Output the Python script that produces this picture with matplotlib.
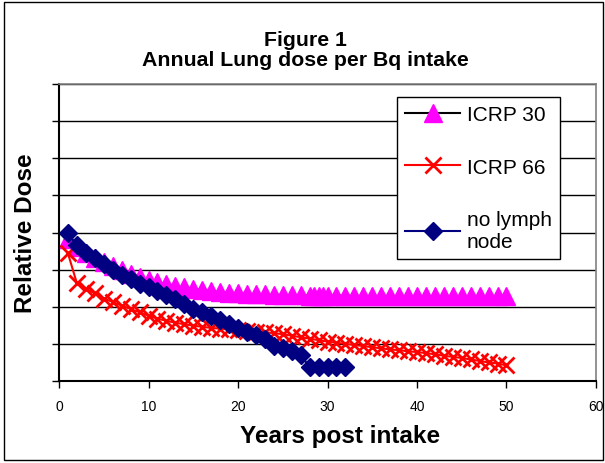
import matplotlib
matplotlib.use("Agg")
import matplotlib.pyplot as plt
from matplotlib.patches import Rectangle

plt.rcParams['font.family'] = ['Liberation Sans', 'DejaVu Sans']

# ICRP 30 (magenta triangles) - a few extra half-year points around year 29
years_30 = list(range(1, 29)) + [28.5, 29, 29.5] + list(range(30, 51))
years_30 = sorted(set(years_30))
dose_30 = [3.83, 3.62, 3.45, 3.32, 3.20, 3.10, 2.99, 2.89, 2.80, 2.72,
           2.66, 2.61, 2.56, 2.52, 2.48, 2.45, 2.42, 2.40, 2.38, 2.36,
           2.35, 2.34, 2.33, 2.32, 2.32, 2.31, 2.31, 2.30, 2.30, 2.30,
           2.30, 2.30, 2.30, 2.30, 2.29, 2.29, 2.29, 2.29, 2.29,
           2.29, 2.29, 2.29, 2.28, 2.28, 2.28, 2.28, 2.28, 2.28, 2.28,
           2.28, 2.28, 2.28]

# ICRP 66 (red crosses)
years_66 = list(range(1, 51))
dose_66 = [3.44, 2.63, 2.49, 2.36, 2.22, 2.13, 2.03, 1.94, 1.85, 1.76,
           1.68, 1.62, 1.57, 1.53, 1.49, 1.46, 1.43, 1.41, 1.39, 1.37,
           1.35, 1.33, 1.31, 1.29, 1.26, 1.22, 1.18, 1.14, 1.10, 1.06,
           1.03, 1.00, 0.97, 0.94, 0.91, 0.88, 0.85, 0.83, 0.80, 0.78,
           0.75, 0.72, 0.68, 0.65, 0.62, 0.58, 0.54, 0.50, 0.47, 0.42]

# no lymph node (navy diamonds)
years_nl = list(range(1, 33))
dose_nl = [3.98, 3.65, 3.45, 3.30, 3.15, 3.00, 2.86, 2.74, 2.62, 2.52,
           2.42, 2.31, 2.20, 2.08, 1.95, 1.85, 1.74, 1.63, 1.53, 1.43,
           1.33, 1.23, 1.12, 0.95, 0.88, 0.80, 0.70, 0.38, 0.38, 0.38,
           0.38, 0.38]

fig = plt.figure(figsize=(6.05, 4.64), dpi=100)
ax = fig.add_axes([59 / 605, 1 - 382 / 464, 537 / 605, 297 / 464])

ax.plot(years_30, dose_30, color='black', lw=1.5, marker='^', ms=12.5,
        mfc='#FF00FF', mec='#FF00FF', label='ICRP 30')
ax.plot(years_66, dose_66, color='#FF0000', lw=1.5, marker='x', ms=12,
        mew=2, label='ICRP 66')
ax.plot(years_nl, dose_nl, color='#000080', lw=1.5, marker='D', ms=9.5,
        mfc='#000080', mec='#000080', label='no lymph\nnode')

ax.set_xlim(0, 60)
ax.set_ylim(0, 8)
ax.set_xticks(range(0, 61, 10))
ax.set_yticks(range(0, 9))
ax.set_yticklabels([])
ax.tick_params(axis='x', direction='out', length=5, width=1, labelsize=10, pad=8)
ax.tick_params(axis='y', direction='out', length=5, width=1)
ax.grid(axis='y', color='black', lw=1)
ax.set_axisbelow(True)
for side in ['left', 'bottom']:
    ax.spines[side].set_color('black')
    ax.spines[side].set_linewidth(1.5)
for side in ['top', 'right']:
    ax.spines[side].set_color('#808080')
    ax.spines[side].set_linewidth(1.2)

# axis titles placed like the original (x title sits a bit right of centre)
fig.text(340 / 605, 1 - 437 / 464, 'Years post intake', ha='center',
         va='center', fontsize=17.5, fontweight='bold')
fig.text(26 / 605, 1 - 233 / 464, 'Relative Dose', ha='center',
         va='center', rotation=90, fontsize=17.5, fontweight='bold')

leg = ax.legend(loc='upper right', bbox_to_anchor=(560 / 605, 1 - 98 / 464),
                bbox_transform=fig.transFigure, fontsize=15, frameon=True,
                fancybox=False, edgecolor='black', framealpha=1,
                handlelength=2.65, handletextpad=0.3, labelspacing=1.6,
                borderpad=0.4, borderaxespad=0)
leg.get_frame().set_linewidth(1)

fig.text(0.505, 1 - 40 / 464, 'Figure 1', ha='center', va='center',
         fontsize=15.3, fontweight='bold')
fig.text(0.505, 1 - 61 / 464, 'Annual Lung dose per Bq intake', ha='center',
         va='center', fontsize=15.3, fontweight='bold')

fig.patches.append(Rectangle((4 / 605, 3 / 464), 599 / 605, 458 / 464,
                             transform=fig.transFigure, fill=False,
                             edgecolor='black', lw=1))

fig.savefig('out.png', dpi=100)
